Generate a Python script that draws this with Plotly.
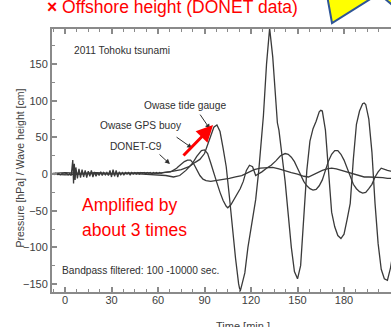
import plotly.graph_objects as go

# ---------------- data ----------------
tide_t = [-8, 0, 10, 20, 30, 40, 50, 60, 65, 70, 75, 80, 84, 87, 90, 92, 94, 96, 98, 100,
          102, 104, 106, 108, 110, 112, 113, 114, 116, 118, 119, 121, 123, 125, 126, 127, 128,
          130, 132, 134, 136, 137, 138, 140, 142, 144, 146, 148, 150, 152, 154, 156, 158, 160,
          162, 164, 165, 166, 168, 170, 172, 174, 176, 178, 180, 182, 184, 186, 188, 190, 192,
          193, 194, 196, 198, 200, 202, 204, 206, 208, 210, 211]
tide_v = [1, 2, 1, 2, 1, 2, 2, 1, 2, 4, 6, 10, 16, 20, 28, 40, 55, 64, 67, 58,
          35, 10, -30, -75, -115, -150, -160, -152, -135, -100, -86, -58, -35, 5, 30, 55, 80,
          150, 199, 160, 105, 70, 60, 25, -10, -55, -100, -133, -143, -125, -55, 5, 45, 62,
          72, 85, 87, 86, 60, 0, -52, -72, -84, -88, -82, -62, -40, 20, 68, 86, 96,
          97, 95, 75, 30, -40, -95, -130, -143, -145, -128, -115]

gps_t = [-8, 0, 10, 20, 30, 40, 50, 60, 65, 70, 74, 78, 82, 85, 88, 90, 92, 94, 96, 98,
         100, 102, 104, 105, 107, 109, 111, 113, 115, 117, 119, 121, 123, 125, 127, 130, 133,
         136, 139, 142, 144, 146, 148, 150, 152, 154, 156, 158, 160, 162, 164, 166, 168, 170,
         172, 174, 176, 178, 180, 182, 184, 186, 188, 190, 192, 194, 196, 198, 200, 202, 204,
         206, 208, 210, 211]
gps_v = [0, -1, 0, 1, 0, 1, 0, -1, -2, -4, -2, 5, 14, 24, 32, 33, 28, 15, 0, -12,
         -25, -36, -44, -46, -42, -35, -28, -20, -10, 5, 12, 10, -2, 0, 3, 8, 12,
         18, 25, 28, 27, 23, 17, 8, -2, -10, -16, -20, -22, -21, -16, -8, 5, 18,
         27, 32, 32, 27, 19, 8, -5, -14, -20, -24, -26, -25, -20, -14, -4, 3, 8,
         6, 5, 4, 4]

donet_t = [-8, -7, -6, -5, -4, -3, -2, -1, 0, 1, 2, 3, 4, 5, 5.5, 6, 6.5, 7, 8, 9,
           10, 11, 12, 13, 14, 15, 16, 17, 18, 19, 20, 21, 22, 23, 24, 25, 26, 27, 28, 29,
           30, 31, 32, 33, 34, 35, 36, 37, 38, 39, 40, 41, 42, 43, 44, 45, 46, 47, 48, 49,
           50, 51, 52, 53, 54, 55, 56, 57, 58, 59, 60, 61, 62, 63, 64, 65, 66, 67, 68, 69,
           70, 71, 72, 73, 74, 75, 77, 79, 81, 83, 85, 87, 89, 91, 94, 97, 100, 103, 106, 110,
           114, 118, 122, 126, 130, 134, 138, 142, 146, 150, 154, 157, 160, 163, 166, 169, 172,
           175, 178, 181, 184, 187, 190, 193, 196, 199, 202, 205, 208, 211]
donet_v = [0.5, -0.5, 1, -0.5, 0.5, -1, 0.5, 0, 0, 1, -1, 0.5, -2, 19, -13, 14, -8, 9, -6, 7,
           -5, 6, -4, 5, -5, 4, -3, 5, -4, 3, -3, 2, -2, 3, -2, 2, -1, 2, -2, 5,
           -4, 6, -3, 5, -4, 3, -1, 2, -1, 2, 0, 2, -1, 2, 0, 2, 0, 2, 0, 2,
           1, 2, 0, 2, 1, 2, 0, 2, 1, 2, 1, 2, 1, 2, 2, 3, 2, 3, 3, 4,
           5, 6, 8, 10, 12, 14, 17, 19, 19, 14, 6, -2, -7, -9, -10, -9, -9, -7, -6, -4,
           -2, 2, 6, 8, 9, 9, 7, 4, 2, 0, -3, -4, -1, 3, 5, 7, 8,
           7, 5, 3, 1, -1, -3, -4, -4, -4, -5, -5, -6, -6]

x_ticks = [0, 30, 60, 90, 120, 150, 180, 210]
y_ticks = [-150, -100, -50, 0, 50, 100, 150]

# ---------------- figure ----------------
FONT = "Liberation Sans, Arial, sans-serif"
LINE = "#3a3a3a"
AXIS = "#8a8a8a"
TXT = "#404040"

fig = go.Figure()
for t, v in [(donet_t, donet_v), (gps_t, gps_v), (tide_t, tide_v)]:
    fig.add_trace(go.Scatter(x=t, y=v, mode="lines",
                             line=dict(color=LINE, width=1.3), showlegend=False,
                             hoverinfo="skip"))

axis_common = dict(showline=True, linecolor=AXIS, linewidth=2, ticks="inside",
                   ticklen=5, tickwidth=1.5, tickcolor=AXIS, showgrid=False,
                   zeroline=False, automargin=False,
                   tickfont=dict(family=FONT, size=11, color=TXT))

fig.update_xaxes(range=[-8.4, 210.3], tickvals=x_ticks, mirror="ticks",
                 ticklabelstandoff=-3,
                 minor=dict(dtick=7.5, tick0=0, ticks="inside", ticklen=3,
                            tickwidth=1.2, tickcolor=AXIS, showgrid=False),
                 **axis_common)
fig.update_yaxes(range=[-161, 198], tickvals=y_ticks, mirror=False,
                 minor=dict(dtick=25, tick0=0, ticks="inside", ticklen=3,
                            tickwidth=1.2, tickcolor=AXIS, showgrid=False),
                 **axis_common)

ann = []
# titles
ann.append(dict(text="Pressure [hPa] / Wave height [cm]", xref="paper", yref="paper",
                x=-0.094, y=0.47, xanchor="center", yanchor="middle", textangle=-90,
                showarrow=False, font=dict(family=FONT, size=10.5, color=TXT)))
ann.append(dict(text="Time [min.]", xref="paper", yref="paper", x=0.563, y=-0.131,
                xanchor="center", yanchor="middle", showarrow=False,
                font=dict(family=FONT, size=11, color=TXT)))
# in-plot labels
black = dict(family=FONT, size=10.2, color="#303030")
ann.append(dict(text="2011 Tohoku tsunami", x=36.8, y=169, showarrow=False, font=black))
ann.append(dict(text="Owase tide gauge", x=77.4, y=94, showarrow=False, font=black))
ann.append(dict(text="Owase GPS buoy", x=48.7, y=66.8, showarrow=False, font=black))
ann.append(dict(text="DONET-C9", x=45.5, y=38.2, showarrow=False, font=black))
ann.append(dict(text="Bandpass filtered: 100 -10000 sec.", x=49, y=-131,
                showarrow=False, font=black))
red = dict(family=FONT, size=17.5, color="#ff0000")
ann.append(dict(text="Amplified by", x=9.7, y=-42.3, xanchor="left", showarrow=False, font=red))
ann.append(dict(text="about 3 times", x=9.7, y=-76.4, xanchor="left", showarrow=False, font=red))
ann.append(dict(text="<b>×</b> Offshore height (DONET data)", xref="paper", yref="paper",
                x=-0.02, y=1.085, xanchor="left", yanchor="middle", showarrow=False,
                font=dict(family=FONT, size=17.5, color="#ff0000")))
# pointer arrows
for (tx, ty, hx, hy) in [(86.5, 83.2, 93.5, 61.4), (71, 51.8, 82, 35.5), (60, 28.6, 67.7, 13.6)]:
    ann.append(dict(text="", x=hx, y=hy, ax=tx, ay=ty, axref="x", ayref="y",
                    showarrow=True, arrowhead=2, arrowsize=1, arrowwidth=1,
                    arrowcolor="#303030", standoff=0))
ann.append(dict(text="", x=95.5, y=66.8, ax=75.5, ay=23.2, axref="x", ayref="y",
                showarrow=True, arrowhead=2, arrowsize=1.1, arrowwidth=3,
                arrowcolor="#ff0000", standoff=0))

shapes = [
    dict(type="path", xref="paper", yref="paper",
         path="M 0.811 1.13 L 0.826 1.0228 L 0.959 1.13 Z",
         fillcolor="#ffff00", line=dict(color="#2e5597", width=2)),
    dict(type="path", xref="paper", yref="paper",
         path="M 0.968 1.13 L 1.005 1.09 L 1.005 1.13 Z",
         fillcolor="#ffff00", line=dict(color="#2e5597", width=2)),
]

fig.update_layout(width=391, height=327, margin=dict(l=52, r=0, t=29, b=35, pad=0),
                  paper_bgcolor="white", plot_bgcolor="white",
                  annotations=ann, shapes=shapes, showlegend=False)

fig.write_html("out.html")
